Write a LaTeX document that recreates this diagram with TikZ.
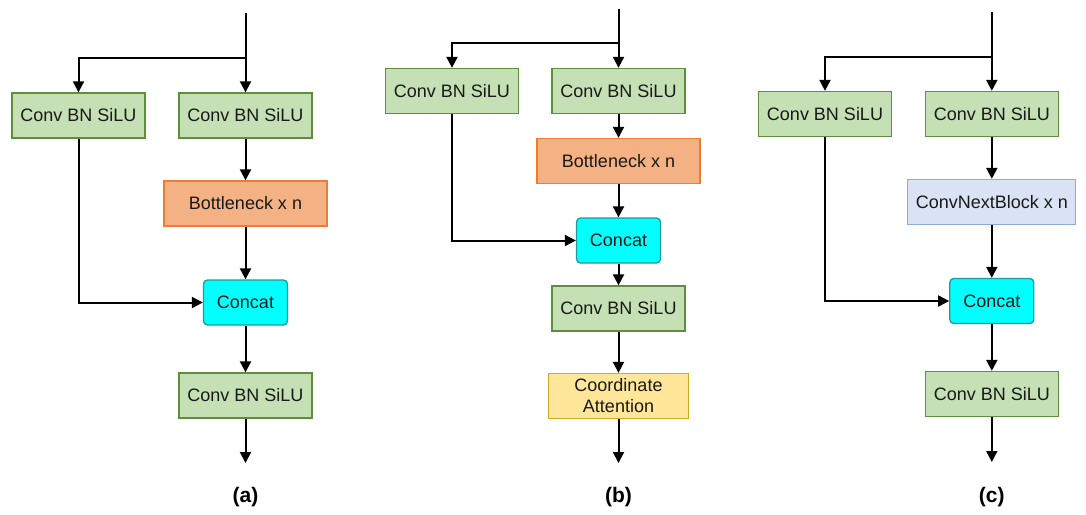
\documentclass[tikz,border=0pt]{standalone}
\usepackage{fontspec}
\setmainfont{Liberation Sans}
\usetikzlibrary{arrows.meta}

\definecolor{cbsfill}{HTML}{C5E0B4}
\definecolor{cbsdraw}{HTML}{5E8E3E}
\definecolor{btfill}{HTML}{F4B183}
\definecolor{btdraw}{HTML}{ED7D31}
\definecolor{catfill}{HTML}{00FFFF}
\definecolor{catdraw}{HTML}{1E9A9A}
\definecolor{cafill}{HTML}{FFE699}
\definecolor{cadraw}{HTML}{D6A629}
\definecolor{cnfill}{HTML}{DAE3F3}
\definecolor{cndraw}{HTML}{8FAADC}

\tikzset{
  blk/.style={draw, line width=1.3pt, inner sep=0pt, minimum height=45pt,
    font=\fontsize{18}{21}\selectfont, align=center, text=black!90},
  cbs/.style={blk, fill=cbsfill, draw=cbsdraw, minimum width=133pt},
  btn/.style={blk, fill=btfill, draw=btdraw, minimum width=163pt},
  cat/.style={blk, fill=catfill, draw=catdraw, minimum width=84pt, rounded corners=4pt},
  catt/.style={blk, fill=cafill, draw=cadraw, minimum width=140pt},
  cnb/.style={blk, fill=cnfill, draw=cndraw, minimum width=168pt},
  flow/.style={line width=2pt, -{Triangle[width=11pt,length=11pt]}},
  panellabel/.style={font=\bfseries\fontsize{21}{24}\selectfont}
}

\begin{document}
\begin{tikzpicture}[x=1pt, y=-1pt]
\useasboundingbox (0,0) rectangle (1086,514);

% ---------------- (a) ----------------
\coordinate (ain) at (245.5,13);
\coordinate (asplit) at (245.5,58);
\node[cbs] (a1) at (78.5,115.5) {Conv BN SiLU};
\node[cbs] (a2) at (245.5,115.5) {Conv BN SiLU};
\node[btn] (a3) at (245.5,203.5) {Bottleneck x n};
\node[cat] (a4) at (245.5,302.5) {Concat};
\node[cbs] (a5) at (245.5,395.5) {Conv BN SiLU};
\coordinate (aout) at (245.5,463);
\node[panellabel] (la) at (245.5,497) {(a)};

\draw[flow] (ain) -- (a2);
\draw[flow] (asplit) -| (a1);
\draw[flow] (a2) -- (a3);
\draw[flow] (a3) -- (a4);
\draw[flow] (a1) |- (a4);
\draw[flow] (a4) -- (a5);
\draw[flow] (a5) -- (aout);

% ---------------- (b) ----------------
\coordinate (bin) at (618.5,9);
\coordinate (bsplit) at (618.5,43);
\node[cbs] (b1) at (452,91) {Conv BN SiLU};
\node[cbs] (b2) at (618.5,91) {Conv BN SiLU};
\node[btn] (b3) at (618.5,161) {Bottleneck x n};
\node[cat] (b4) at (618.5,240.5) {Concat};
\node[cbs] (b5) at (618.5,308.5) {Conv BN SiLU};
\node[catt] (b6) at (618.5,396) {Coordinate\\Attention};
\coordinate (bout) at (618.5,463);
\node[panellabel] (lb) at (618.5,497) {(b)};

\draw[flow] (bin) -- (b2);
\draw[flow] (bsplit) -| (b1);
\draw[flow] (b2) -- (b3);
\draw[flow] (b3) -- (b4);
\draw[flow] (b1) |- (b4);
\draw[flow] (b4) -- (b5);
\draw[flow] (b5) -- (b6);
\draw[flow] (b6) -- (bout);

% ---------------- (c) ----------------
\coordinate (cin) at (991.8,12);
\coordinate (csplit) at (991.8,57);
\node[cbs] (c1) at (825,114) {Conv BN SiLU};
\node[cbs] (c2) at (991.8,114) {Conv BN SiLU};
\node[cnb] (c3) at (991.8,202) {ConvNextBlock x n};
\node[cat] (c4) at (991.8,301) {Concat};
\node[cbs] (c5) at (991.8,394) {Conv BN SiLU};
\coordinate (cout) at (991.8,462);
\node[panellabel] (lc) at (991.8,497) {(c)};

\draw[flow] (cin) -- (c2);
\draw[flow] (csplit) -| (c1);
\draw[flow] (c2) -- (c3);
\draw[flow] (c3) -- (c4);
\draw[flow] (c1) |- (c4);
\draw[flow] (c4) -- (c5);
\draw[flow] (c5) -- (cout);
\end{tikzpicture}
\end{document}
